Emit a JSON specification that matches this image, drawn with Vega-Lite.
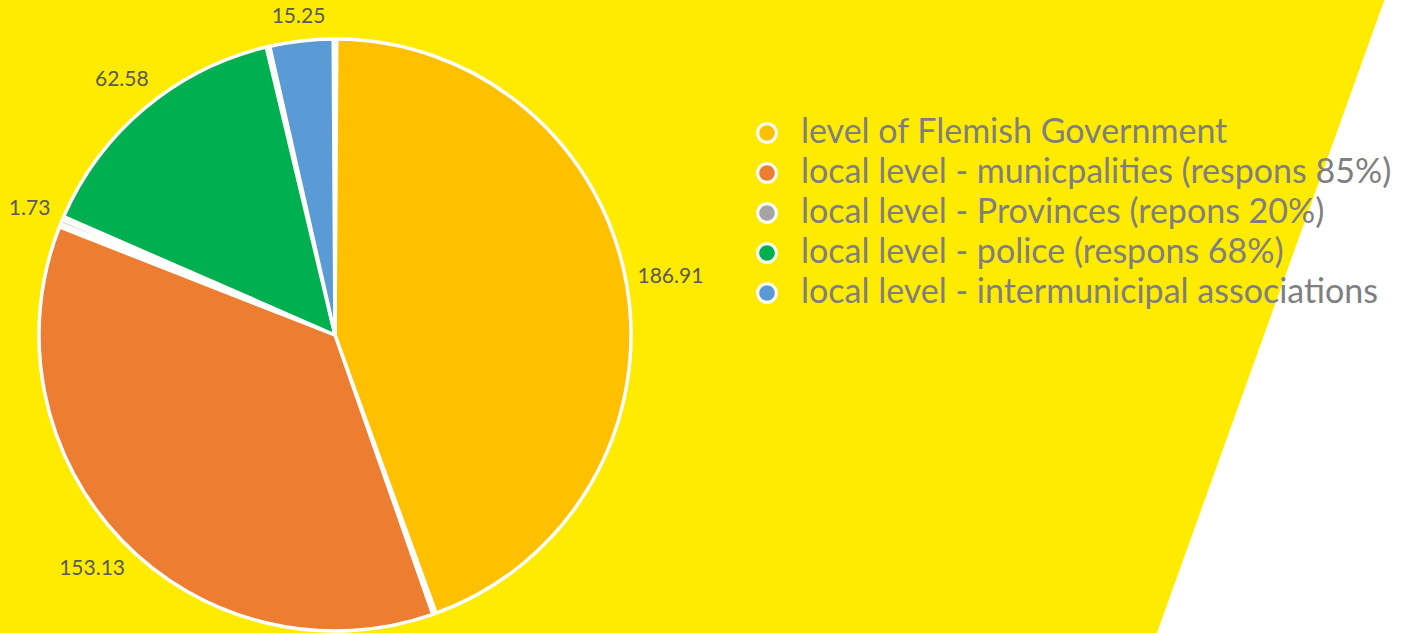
{
  "$schema": "https://vega.github.io/schema/vega-lite/v6.json",
  "width": 1404,
  "height": 633,
  "autosize": {"type": "none"},
  "padding": 0,
  "background": "#FFEB00",
  "config": {"view": {"stroke": null}},
  "datasets": {
    "slices": [
      {"category": "level of Flemish Government", "value": 186.91, "order": 1},
      {"category": "local level - municpalities (respons 85%)", "value": 153.13, "order": 2},
      {"category": "local level - Provinces (repons 20%)", "value": 1.73, "order": 3},
      {"category": "local level - police (respons 68%)", "value": 62.58, "order": 4},
      {"category": "local level - intermunicipal associations", "value": 15.25, "order": 5}
    ],
    "band": [
      {"by": 0, "bx": 0.824},
      {"by": 1, "bx": 0.986}
    ]
  },
  "layer": [
    {
      "data": {"name": "band"},
      "mark": {"type": "area", "orient": "horizontal", "color": "#FFFFFF", "opacity": 1},
      "encoding": {
        "y": {"field": "by", "type": "quantitative", "scale": {"domain": [0, 1], "nice": false, "zero": false}, "axis": null},
        "x": {"field": "bx", "type": "quantitative", "scale": {"domain": [0, 1], "nice": false, "zero": false}, "axis": null},
        "x2": {"datum": 1}
      }
    },
    {
      "data": {"name": "slices"},
      "mark": {"type": "arc", "outerRadius": 296, "stroke": "#FFFFFF", "strokeWidth": 3.5, "padAngle": 0.012},
      "encoding": {
        "theta": {"field": "value", "type": "quantitative", "stack": true},
        "order": {"field": "order", "type": "quantitative"},
        "x": {"datum": 0.2386, "type": "quantitative", "scale": {"domain": [0, 1], "nice": false, "zero": false}, "axis": null},
        "y": {"datum": 0.4708, "type": "quantitative", "scale": {"domain": [0, 1], "nice": false, "zero": false}, "axis": null},
        "color": {
          "field": "category",
          "type": "nominal",
          "scale": {
            "domain": [
              "level of Flemish Government",
              "local level - municpalities (respons 85%)",
              "local level - Provinces (repons 20%)",
              "local level - police (respons 68%)",
              "local level - intermunicipal associations"
            ],
            "range": ["#FFC000", "#ED7D31", "#A5A5A5", "#00B050", "#5B9BD5"]
          },
          "legend": {
            "orient": "none",
            "legendX": 750,
            "legendY": 116,
            "title": null,
            "symbolType": "circle",
            "symbolSize": 350,
            "symbolStrokeColor": "#FFFFFF",
            "symbolStrokeWidth": 3,
            "symbolOpacity": 1,
            "labelFont": "Lato",
            "labelFontSize": 34,
            "labelColor": "#7F7F7F",
            "rowPadding": 6,
            "labelOffset": 17,
            "labelLimit": 900
          }
        }
      }
    },
    {
      "data": {"name": "slices"},
      "mark": {
        "type": "text",
        "radius": {"expr": "306 + 5.5*length(format(datum.value, '.2f'))*abs(sin(scale('theta', (datum.value_start + datum.value_end)/2))) + 11*abs(cos(scale('theta', (datum.value_start + datum.value_end)/2)))"},
        "font": "Lato",
        "fontSize": 21,
        "color": "#595959",
        "baseline": "middle",
        "align": "center"
      },
      "encoding": {
        "theta": {"field": "value", "type": "quantitative", "stack": true},
        "order": {"field": "order", "type": "quantitative"},
        "x": {"datum": 0.2386, "type": "quantitative"},
        "y": {"datum": 0.4708, "type": "quantitative"},
        "text": {"field": "value", "type": "quantitative", "format": ".2f"}
      }
    }
  ]
}
